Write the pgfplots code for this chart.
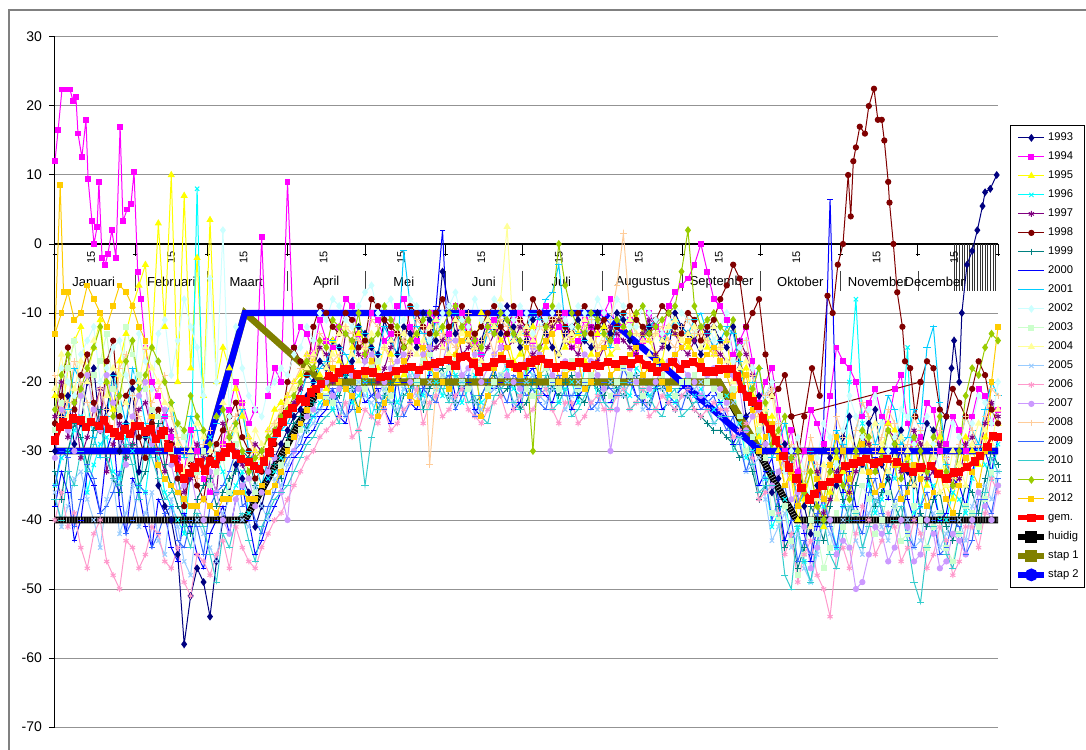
\documentclass[border=0pt]{standalone}
\usepackage{pgfplots}
\pgfplotsset{compat=1.18}
\usepackage{pgfplotstable}
\usepackage{fontspec}
\setmainfont{Liberation Sans}
\definecolor{c93}{HTML}{000080}
\definecolor{c94}{HTML}{FF00FF}
\definecolor{c95}{HTML}{FFFF00}
\definecolor{c96}{HTML}{00FFFF}
\definecolor{c97}{HTML}{800080}
\definecolor{c98}{HTML}{800000}
\definecolor{c99}{HTML}{008080}
\definecolor{c00}{HTML}{0000FF}
\definecolor{c01}{HTML}{00CCFF}
\definecolor{c02}{HTML}{CCFFFF}
\definecolor{c03}{HTML}{CCFFCC}
\definecolor{c04}{HTML}{FFFF99}
\definecolor{c05}{HTML}{99CCFF}
\definecolor{c06}{HTML}{FF99CC}
\definecolor{c07}{HTML}{CC99FF}
\definecolor{c08}{HTML}{FFCC99}
\definecolor{c09}{HTML}{3366FF}
\definecolor{c10}{HTML}{33CCCC}
\definecolor{c11}{HTML}{99CC00}
\definecolor{c12}{HTML}{FFCC00}
\definecolor{olivec}{HTML}{808000}
\pgfplotsset{
 s93/.style={color=c93, mark=diamond*, mark size=1.6pt},
 s94/.style={color=c94, mark=square*, mark size=1.2pt},
 s95/.style={color=c95, mark=triangle*, mark size=1.6pt},
 s96/.style={color=c96, mark=x, mark size=1.5pt},
 s97/.style={color=c97, mark=asterisk, mark size=1.5pt},
 s98/.style={color=c98, mark=*, mark size=1.3pt},
 s99/.style={color=c99, mark=+, mark size=1.6pt},
 s00/.style={color=c00, mark=-, mark size=1.4pt},
 s01/.style={color=c01, mark=-, mark size=1.8pt},
 s02/.style={color=c02, mark=diamond*, mark size=1.6pt},
 s03/.style={color=c03, mark=square*, mark size=1.2pt},
 s04/.style={color=c04, mark=triangle*, mark size=1.6pt},
 s05/.style={color=c05, mark=x, mark size=1.5pt},
 s06/.style={color=c06, mark=asterisk, mark size=1.5pt},
 s07/.style={color=c07, mark=*, mark size=1.3pt},
 s08/.style={color=c08, mark=+, mark size=1.6pt},
 s09/.style={color=c09, mark=-, mark size=1.4pt},
 s10/.style={color=c10, mark=-, mark size=1.8pt},
 s11/.style={color=c11, mark=diamond*, mark size=1.6pt},
 s12/.style={color=c12, mark=square*, mark size=1.2pt},
}
\pgfplotstableread{
d y93 y94 y95 y96 y97 y98 y99 y00 y01 y02 y03 y04 y05 y06 y07 y08 y09 y10 y11 y12
0 -30 nan -22 -35 -25 -26 -33 -38 -29 -24 -27 -21 -36 -40 -31 -19 -35 -37 -24 -13
2.5 -25 nan -26 -31 -20 -22 -37 -33 -26 -18 -23 -16 -41 -36 -24 -25 -30 -40 -19 -10
5 -22 nan -18 -30 -28 -15 -30 -36 -24 -20 -18 -25 -38 -41 -27 -23 -31 -33 -16 -7
7.5 -29 nan -14 -27 -23 -24 -26 -43 -18 -22 -14 -21 -34 -39 -30 -17 -41 -35 -23 -11
10 -26 nan -12 -25 -31 -19 -28 -40 -20 -16 -22 -17 -33 -44 -22 -20 -37 -30 -21 -10
12.5 -20 nan -19 -36 -28 -16 -32 -33 -23 -14 -26 -20 -37 -47 -19 -23 -32 -33 -18 -6
15 -18 nan -15 -32 -24 -23 -27 -35 -28 -12 -19 -14 -40 -42 -24 -26 -34 -29 -15 -8
17.5 -27 nan -11 -29 -21 -27 -24 -39 -31 -20 -17 -12 -44 -40 -27 -21 -39 -26 -12 -10
20 -24 nan -20 -28 -33 -17 -31 -30 -25 -18 -13 -22 -37 -46 -19 -24 -38 -31 -20 -12
22.5 -19 nan -24 -33 -29 -14 -34 -27 -19 -15 -21 -18 -34 -48 -23 -28 -36 -34 -25 -9
25 -30 nan -17 -34 -26 -25 -36 -38 -22 -14 -24 -19 -42 -50 -28 -18 -33 -35 -22 -6
27.5 -26 nan -13 -28 -31 -22 -31 -42 -26 -19 -12 -23 -39 -43 -32 -16 -42 -29 -17 -7
30 -21 nan -9 -30 -29 -20 -29 -34 -18 -22 -16 -26 -35 -44 -25 -22 -40 -32 -14 -9
32.5 -33 nan -6 -35 -24 -28 -35 -36 -21 -13 -19 -20 -41 -47 -22 -25 -35 -37 -21 -12
35 -28 -15 -3 -36 -23 -31 -33 -41 -26 -17 -21 -15 -39 -45 -20 -27 -36 -28 -19 -14
37.5 -25 -20 -15 -29 -27 -26 -29 -44 -29 -21 -24 -18 -36 -41 -29 -23 -44 -31 -15 -25
40 -35 -22 3 -31 -30 -24 -26 -37 -30 -13 -25 -20 -43 -42 -27 -21 -42 -34 -17 -32
42.5 -38 -25 -12 -36 -33 -27 -32 -39 -25 -11 -28 -23 -45 -46 -24 -19 -39 -37 -20 -34
45 -40 -28 10 -38 -27 -29 -35 -44 -23 -19 -30 -24 -37 -47 -32 -25 -38 -36 -23 -35
47.5 -45 -31 -20 -40 -31 -34 -38 -46 -28 -14 -26 -29 -41 -44 -36 -28 -43 -33 -26 -36
50 -58 -33 7 -42 -36 -38 -40 -39 -31 -8 -28 -33 -46 -49 -35 -30 -44 -41 -27 -37
52.5 -51 -27 -18 -33 -34 -32 -42 -41 -25 -12 -31 -30 -48 -51 -33 -32 -40 -44 -22 -38
55 -47 -30 -2 8 -29 -35 -37 -45 -27 -15 -33 -26 -40 -45 -38 -34 -41 -39 -25 -38
57.5 -49 -34 -22 -30 -31 -37 -35 -47 -33 -22 -30 -28 -42 -46 -40 -29 -45 -41 -27 -37
60 -54 -36 3.5 -28 -33 -31 -34 -42 -29 -5 -35 -30 -44 -48 -33 -27 -38 -45 -29 -38
62.5 -46 -32 -20 -31 -36 -29 -38 -40 -26 -20 -33 -25 -46 -45 -36 -31 -36 -49 -25 -39
65 -40 -29 -15 -33 -26 -27 -36 -38 -24 2 -31 -23 -39 -43 -40 -29 -35 -42 -24 -37
67.5 -36 -24 -18 -37 -28 -25 -34 -42 -29 -25 -36 -29 -37 -47 -42 -27 -33 -44 -28 -37
70 -32 -20 -21 -35 -30 -23 -33 -37 -26 -12 -29 -27 -36 -41 -37 -25 -30 -40 -26 -36
72.5 -34 -23 -25 -33 -32 -28 -30 -35 -24 -18 -31 -30 -40 -44 -35 -23 -38 -39 -30 -36
75 -36 -26 -28 -39 -34 -30 -31 -40 -30 -22 -34 -32 -41 -46 -34 -28 -37 -43 -33 -37
77.5 -41 -24 -30 -37 -29 -34 -35 -45 -32 -24 -36 -27 -35 -47 -38 -30 -40 -46 -31 -37
80 -38 1 -31 -36 -30 -33 -36 -43 -35 -25 -32 -29 -38 -44 -36 -31 -42 -41 -30 -35
82.5 -34 -22 -27 -34 -33 -30 -33 -40 -31 -21 -30 -31 -40 -42 -33 -27 -38 -39 -28 -36
85 -31 -18 -24 -33 -27 -29 -32 -38 -28 -20 -35 -26 -34 -40 -31 -26 -36 -37 -27 -35
87.5 -29 -20 -23 -31 -25 -26 -34 -36 -27 -18 -32 -24 -35 -39 -36 -24 -33 -36 -25 -33
90 -27 9 -22 -30 -24 -20 -28 -33 -26 -19 -29 -23 -32 -37 -40 -22 -31 -35 -24 -30
92.5 -25 -15 -20 -28 -23 -15 -26 -31 -24 -16 -28 -21 -30 -35 -30 -20 -30 -33 -22 -28
95 -24 -12 -19 -26 -21 -17 -25 -30 -22 -15 -27 -20 -28 -33 -26 -18 -29 -31 -20 -26
97.5 -22 -13 -16 -27 -19 -19 -27 -28 -19 -12 -25 -18 -27 -31 -25 -16 -26 -29 -17 -24
100 -20 -16 -17 -25 -18 -12 -23 -27 -20 -14 -24 -16 -26 -30 -24 -17 -25 -28 -18 -21
102.5 -17 -11 -19 -23 -15 -9 -21 -25 -18 -10 -21 -14 -24 -28 -21 -13 -24 -26 -14 -22
105 -18 -14 -21 -22 -16 -10 -20 -24 -17 -11 -22 -18 -23 -27 -20 -14 -22 -25 -15 -23
107.5 -14 -15 -14 -24 -20 -12 -23 -21 -14 -8 -23 -16 -22 -26 -22 -17 -21 -24 -11 -18
110 -15 -12 -17 -21 -19 -13 -22 -25 -15 -9 -20 -13 -24 -25 -21 -16 -23 -26 -12 -20
112.5 -19 -8 -18 -19 -13 -10 -19 -26 -16 -11 -18 -12 -25 -23 -18 -12 -25 -21 -13 -21
115 -17 -9 -15 -23 -14 -11 -21 -22 -18 -12 -19 -16 -21 -28 -19 -13 -24 -22 -14 -22
117.5 -12 -13 -13 -22 -16 -15 -24 -20 -12 -9 -20 -17 -20 -27 -21 -14 -19 -27 -10 -24
120 -13 -16 -14 -20 -17 -14 -19 -23 -13 -7 -21 -15 -22 -24 -17 -15 -20 -35 -16 -19
122.5 -15 -10 -17 -25 -14 -8 -20 -22 -15 -6 -18 -13 -23 -25 -16 -11 -22 -28 -14 -17
125 -16 -11 -18 -22 -20 -9 -24 -21 -16 -10 -17 -19 -25 -26 -22 -12 -23 -24 -13 -25
127.5 -11 -14 -15 -20 -18 -11 -22 -24 -12 -9 -21 -15 -21 -24 -20 -15 -24 -22 -9 -23
130 -14 -13 -16 -19 -15 -12 -20 -26 -14 -8 -22 -14 -23 -27 -18 -17 -21 -23 -11 -21
132.5 -16 -9 -20 -23 -13 -13 -25 -19 -16 -12 -19 -12 -24 -26 -17 -13 -20 -25 -12 -19
135 -12 -8 -19 -21 -18 -15 -22 -20 -1 -11 -18 -13 -21 -24 -16 -14 -25 -22 -15 -17
137.5 -13 -12 -14 -18 -16 -9 -21 -23 -9 -8 -22 -15 -19 -23 -20 -16 -23 -21 -14 -22
140 -15 -14 -13 -20 -10 -10 -19 -24 -12 -9 -20 -16 -22 -21 -19 -11 -18 -20 -13 -23
142.5 -10 -15 -17 -22 -12 -12 -24 -21 -13 -11 -17 -14 -23 -26 -16 -12 -21 -24 -11 -15
145 -11 -10 -15 -18 -16 -13 -21 -19 -15 -14 -16 -12 -20 -23 -15 -32 -22 -24 -10 -18
147.5 -14 -11 -13 -20 -15 -10 -19 -9 -11 -13 -21 -11 -21 -22 -18 -21 -23 -20 -13 -19
150 -4 -15 -12 -22 -14 -8 -18 2 -13 -10 -19 -15 -19 -25 -17 -13 -20 -21 -12 -20
152.5 -9 -13 -16 -17 -12 -12 -22 -18 -14 -9 -18 -16 -22 -24 -14 -14 -19 -23 -10 -21
155 -13 -9 -16 -19 -11 -11 -23 -22 -10 -7 -17 -11 -23 -22 -14 -15 -24 -19 -9 -16
157.5 -12 -10 -12 -23 -16 -9 -19 -21 -11 -11 -20 -13 -20 -21 -19 -12 -22 -20 -12 -14
160 -10 -12 -14 -21 -15 -14 -20 -20 -14 -12 -21 -14 -18 -24 -18 -10 -19 -23 -11 -13
162.5 -15 -14 -15 -19 -13 -13 -23 -24 -15 -8 -17 -15 -23 -25 -16 -15 -25 -22 -14 -17
165 -14 -16 -10 -23 -17 -12 -22 -25 -16 -11 -18 -17 -24 -26 -20 -14 -22 -25 -15 -25
167.5 -11 -12 -11 -22 -15 -10 -20 -22 -13 -12 -21 -11 -22 -24 -18 -13 -20 -26 -12 -22
170 -12 -11 -12 -20 -13 -9 -19 -21 -12 -8 -20 -12 -21 -23 -16 -16 -18 -22 -13 -18
172.5 -13 -15 -14 -19 -12 -12 -22 -20 -10 -9 -19 -8 -19 -22 -15 -11 -21 -21 -10 -16
175 -9 -13 -13 -18 -15 -13 -21 -19 -11 -10 -17 2.5 -20 -25 -19 -12 -23 -20 -11 -15
177.5 -12 -11 -17 -21 -14 -9 -20 -24 -14 -11 -18 -14 -23 -24 -20 -13 -19 -23 -13 -18
180 -15 -10 -16 -22 -12 -11 -24 -23 -13 -9 -19 -13 -22 -22 -21 -11 -20 -24 -14 -19
182.5 -14 -13 -13 -18 -13 -12 -23 -19 -12 -10 -21 -12 -20 -25 -17 -14 -22 -20 -18 -15
185 -11 -14 -12 -19 -16 -8 -20 -18 -10 -13 -22 -14 -19 -24 -15 -15 -21 -21 -30 -17
187.5 -10 -10 -16 -22 -15 -10 -19 -21 -11 -12 -19 -15 -22 -22 -16 -12 -23 -22 -15 -19
190 -13 -9 -15 -21 -14 -12 -18 -22 -8 -11 -18 -12 -23 -21 -17 -13 -24 -19 -12 -14
192.5 -15 -13 -12 -20 -12 -11 -21 -23 -7 -10 -20 -13 -21 -24 -19 -11 -20 -24 -9 -13
195 -16 -12 -11 -23 -11 -10 -22 -20 -3 -9 -21 -16 -20 -26 -20 -10 -19 -23 0 -20
197.5 -13 -10 -15 -21 -14 -12 -20 -19 -12 -11 -18 -14 -24 -23 -17 -13 -22 -21 -6 -19
200 -12 -15 -14 -20 -15 -13 -19 -24 -12 -12 -17 -13 -22 -23 -18 -14 -22 -25 -10 -18
202.5 -11 -14 -13 -23 -16 -10 -22 -22 -13 -9 -21 -12 -20 -26 -19 -15 -21 -24 -12 -17
205 -14 -11 -17 -18 -13 -9 -23 -21 -14 -10 -20 -11 -21 -25 -16 -12 -20 -22 -13 -21
207.5 -15 -12 -16 -19 -12 -13 -20 -20 -10 -11 -19 -14 -23 -23 -17 -11 -24 -20 -10 -20
210 -10 -13 -13 -22 -17 -12 -21 -19 -11 -8 -19 -15 -24 -22 -19 -15 -23 -21 -11 -16
212.5 -12 -10 -12 -21 -15 -11 -22 -23 -13 -10 -21 -13 -21 -24 -21 -14 -20 -23 -13 -15
215 -13 -8 -16 -19 -12 -14 -20 -23 -15 -11 -22 -14 -20 -24 -30 -11 -21 -24 -14 -19
217.5 -10 -14 -15 -20 -13 -12 -21 -21 -12 -8 -20 -15 -22 -22 -24 -6 -22 -21 -11 -18
220 -11 -12 -12 -21 -14 -10 -22 -20 -10 -9 -18 -12 -22 -21 -17 1.5 -18 -20 -12 -17
222.5 -14 -11 -11 -22 -15 -9 -20 -19 -11 -12 -19 -11 -20 -24 -18 -10 -20 -24 -13 -16
225 -15 -16 -10 -18 -16 -11 -19 -22 -13 -12 -20 -13 -19 -23 -20 -13 -22 -23 -10 -15
227.5 -13 -14 -13 -19 -13 -12 -23 -23 -14 -9 -22 -14 -24 -21 -19 -14 -23 -21 -9 -19
230 -12 -10 -14 -22 -11 -13 -23 -21 -12 -10 -21 -16 -23 -25 -21 -14 -24 -22 -13 -18
232.5 -11 -12 -16 -21 -16 -11 -21 -20 -11 -11 -18 -13 -20 -24 -20 -13 -21 -24 -12 -17
235 -14 -13 -17 -20 -15 -9 -21 -24 -14 -13 -19 -14 -21 -22 -18 -12 -20 -25 -11 -20
237.5 -15 -9 -12 -22 -12 -10 -23 -23 -13 -12 -21 -12 -23 -23 -17 -14 -22 -22 -10 -21
240 -10 -7 -13 -23 -13 -12 -24 -22 -11 -9 -22 -11 -24 -24 -16 -15 -23 -21 -9 -16
242.5 -12 -6 -14 -20 -15 -13 -22 -21 -12 -10 -20 -14 -22 -22 -18 -12 -24 -25 -4 -15
245 -13 -5 -15 -19 -16 -10 -22 -20 -13 -11 -20 -13 -22 -21 -19 -11 -21 -24 2 -14
247.5 -14 -3 -13 -22 -14 -11 -24 -22 -11 -13 -19 -12 -21 -24 -20 -13 -22 -23 -9 -16
250 -16 0 -12 -21 -12 -14 -25 -23 -10 -12 -18 -15 -20 -25 -22 -13 -24 -22 -12 -17
252.5 -13 -4 -15 -23 -13 -12 -26 -22 -13 -11 -20 -14 -23 -24 -19 -14 -23 -24 -11 -16
255 -12 -8 -16 -24 -15 -11 -27 -21 -15 -14 -21 -12 -26 -23 -18 -16 -22 -26 -10 -15
257.5 -14 -9 -15 -23 -16 -8 -27 -23 -14 -12 -22 -15 -25 -24 -21 -15 -25 -25 -12 -17
260 -15 -11 -14 -22 -17 -6 -28 -25 -12 -10 -23 -17 -24 -24 -23 -14 -27 -25 -13 -19
262.5 -12 -16 -20 -21 -19 -3 -29 -29 -13 -17 -21 -20 -23 -28 -19 -18 -25 -30 -11 -22
265 -18 -14 -19 -26 -14 -5 -31 -27 -17 -15 -25 -18 -28 -27 -21 -16 -29 -28 -16 -21
267.5 -25 -12 -18 -31 -16 -12 -30 -25 -22 -14 -30 -17 -33 -26 -27 -14 -33 -27 -22 -19
270 -24 -17 -22 -30 -19 -10 -33 -30 -20 -18 -28 -21 -32 -31 -25 -19 -30 -32 -21 -24
272.5 -22 -23 -28 -27 -24 -8 -37 -35 -18 -24 -27 -26 -31 -37 -24 -25 -29 -36 -18 -30
275 -29 -20 -25 -34 -22 -16 -35 -33 -24 -22 -31 -24 -37 -36 -29 -22 -34 -35 -23 -28
277.5 -36 -18 -25 -41 -20 -22 -33 -31 -31 -20 -39 -22 -43 -35 -35 -21 -40 -35 -29 -26
280 -34 -24 -30 -39 -26 -21 -38 -37 -29 -26 -40 -28 -41 -39 -33 -26 -37 -40 -27 -31
282.5 -29 -30 -35 -37 -33 -19 -44 -43 -26 -33 -38 -35 -39 -45 -31 -32 -35 -48 -25 -35
285 -33 -27 -34 -43 -31 -25 -42 -40 -31 -30 -43 -33 -44 -42 -37 -29 -40 -50 -31 -33
287.5 -30 -33 -40 -41 -38 nan -47 -36 -38 -28 -48 -30 -42 -49 -36 -35 -46 -41 -30 -38
290 -38 -30 -37 -46 -35 nan -44 -42 -36 -33 -45 -35 -47 -45 -41 -33 -43 -46 -36 -35
292.5 -42 -24 -33 -49 -30 nan -38 -46 -30 -36 -40 -41 -49 -43 -47 -28 -45 -49 -33 -31
295 -35 -26 -38 -44 -33 nan -40 -41 -34 -31 -42 -37 -45 -48 -44 -32 -39 -43 -38 -34
297.5 -29 -29 -41 -38 -39 nan -43 -26 -37 -26 -47 -32 -40 -50 -37 -35 -37 -40 -40 -37
300 -31 -22 -36 -40 -37 nan -38 6.5 -32 -28 -44 -34 -42 -54 -40 -30 -41 -45 -33 -32
302.5 -35 -15 -31 -44 -33 nan -34 -28 -27 -32 -39 -37 -45 -45 -45 -25 -44 -47 -30 -28
305 -28 -17 -33 -38 -30 nan -37 -36 -29 -27 -41 -32 -40 -44 -43 -28 -38 -42 -35 -30
307.5 -25 -18 -36 -20 -36 nan -40 -33 -32 -22 -44 -28 -38 -47 -44 -32 -35 -38 -37 -34
310 -30 -20 -31 -8 -33 nan -35 -38 -27 -25 -39 -30 -43 -42 -50 -27 -40 -39 -30 -31
312.5 -32 -25 -27 -26 -28 nan -31 -40 -23 -28 -35 -33 -45 -38 -49 -23 -42 -44 -27 -29
315 -26 -23 -29 -35 -29 nan -34 -33 -25 -24 -37 -28 -39 -40 -45 -25 -36 -41 -28 -33
317.5 -24 -21 -33 -39 -33 nan -38 -31 -29 -22 -42 -26 -37 -45 -41 -30 -34 -37 -33 -36
320 -32 -25 -30 -37 -31 nan -36 -35 -26 -26 -40 -29 -41 -43 -42 -28 -39 -38 -31 -35
322.5 -34 -26 -26 -33 -27 nan -34 -37 -22 -30 -36 -33 -43 -39 -46 -24 -41 -42 -27 -31
325 -29 -21 -27 -34 -28 nan -38 -32 -24 -28 -38 -31 -38 -41 -44 -26 -37 -40 -29 -32
327.5 -27 -19 -32 -28 -33 nan -40 -30 -29 -24 -43 -28 -36 -46 -40 -30 -35 -38 -34 -37
330 -33 -26 -31 -15 -32 nan -35 -37 -28 -25 -42 -30 -40 -44 -41 -29 -42 -43 -32 -36
332.5 -35 -29 -29 -39 -27 nan -33 -40 -24 -29 -38 -35 -44 -40 -46 -25 -44 -49 -28 -32
335 -30 -28 -33 -38 -29 -20 -39 -34 -26 -27 -40 -33 -43 -42 -45 -27 -38 -52 -30 -34
337.5 -26 -23 -35 -34 -34 -17 -41 -32 -15 -25 -44 -29 -38 -47 -40 -32 -36 -44 -33 -38
340 -27 -24 -29 -35 -33 -18 -37 -36 -12 -29 -41 -31 -39 -45 -42 -30 -40 -41 -28 -36
342.5 -30 -30 -28 -40 -29 -24 -36 -40 -23 -33 -39 -36 -44 -41 -47 -27 -45 -39 -25 -33
345 -25 -29 -35 -40 -31 -25 -41 -39 -32 -31 -44 -35 -42 -43 -46 -31 -44 -45 -33 -37
347.5 nan -25 -37 -36 -35 -21 -43 -34 -34 -26 -46 -30 -39 -48 -42 -34 -40 -47 -35 -39
350 nan -27 -32 -37 -34 -23 -39 -35 -29 -28 -42 -32 -40 -46 -43 -29 -41 -42 -30 -35
352.5 nan -30 -28 -39 -29 -25 -35 -38 -25 -31 -38 -35 -43 -41 -45 -25 -45 -38 -22 -31
355 nan -25 -30 -34 -28 -21 -36 -33 -27 -26 -39 -29 -38 -41 -40 -27 -43 -39 -18 -33
357.5 nan -21 -32 -30 -31 -17 -39 -30 -29 -22 -41 -26 -35 -44 -36 -30 -37 -42 -19 -35
360 nan -22 -28 -32 -26 -19 -34 -30 -24 -23 -37 -27 -35 -39 -38 -25 -37 -36 -15 -30
362.5 nan -26 -24 -34 -23 -24 -30 -33 -20 -26 -33 -29 -37 -34 -40 -21 -39 -31 -13 -20
365 nan -24 -26 -29 -25 -26 -32 -28 -22 -20 -35 -24 -33 -36 -35 -22 -34 -33 -14 -12
}\data
\begin{document}
\begin{tikzpicture}
\useasboundingbox (0pt,0pt) rectangle (543pt,-374.5pt);
\draw[gray, line width=0.6pt] (4.5pt,-420pt) -- (4.5pt,-5pt) -- (600pt,-5pt);
\begin{axis}[
  at={(27.5pt,-363.5pt)}, anchor=south west,
  scale only axis, width=471.5pt, height=345pt,
  xmin=0, xmax=365, ymin=-70, ymax=30,
  axis x line=none, axis y line*=left,
  y axis line style={black, line width=0.5pt, -},
  xtick=\empty,
  ytick={-70,-60,...,30},
  ymajorgrids, grid style={gray!85, line width=0.5pt},
  tick align=outside, major tick length=3pt,
  ytick style={black, line width=0.5pt},
  yticklabel style={font=\fontsize{7}{8}\selectfont},
  /pgf/number format/assume math mode=true,
  every axis plot/.append style={line width=0.5pt},
  clip=false,
  legend cell align=left,
  legend style={at={(1.0127,0.8725)}, anchor=north west, draw=black, line width=0.4pt,
    font=\fontsize{5.6}{6}\selectfont, inner xsep=2.5pt, inner ysep=2.5pt,
    row sep=2pt, nodes={inner xsep=0.4pt, inner ysep=1pt, text height=4.3pt, text depth=1.2pt}},
  legend image code/.code={\draw[mark repeat=2,mark phase=2,#1] plot coordinates {(0pt,0pt) (6.5pt,0pt) (13pt,0pt)};},
]
% axis decorations (under the data)
\draw[black, line width=0.6pt] (axis cs:0,0) -- (axis cs:365,0);
\pgfplotsinvokeforeach{0,31,59,90,120,151,181,212,243,273,304,334,365}{
  \draw[black, line width=0.5pt] (axis cs:#1,0) -- (axis cs:#1,-1.7);
  \draw[black, line width=0.5pt] ([xshift=-1.2pt]axis cs:#1,-1.45) -- ([xshift=1.2pt]axis cs:#1,-1.45);
}
\pgfplotsinvokeforeach{31,59,90,120,151,181,212,243,273,304,334}{
  \draw[black!75, line width=0.4pt] (axis cs:#1,-3.9) -- (axis cs:#1,-6.8);
}
\pgfplotsinvokeforeach{348,349,...,364}{
  \draw[black!80, line width=0.3pt] (axis cs:#1,0) -- (axis cs:#1,-6.8);
}
\pgfplotsinvokeforeach{14,45,73,104,134,165,195,226,257,287,318,348}{
  \node[rotate=90, font=\fontsize{5.5}{6}\selectfont, inner sep=0pt] at (axis cs:#1,-2.0) {15};
}
\node[font=\fontsize{6.5}{7}\selectfont] at (axis cs:15,-5.5) {Januari};
\node[font=\fontsize{6.5}{7}\selectfont] at (axis cs:45,-5.5) {Februari};
\node[font=\fontsize{6.5}{7}\selectfont] at (axis cs:74,-5.5) {Maart};
\node[font=\fontsize{6.5}{7}\selectfont] at (axis cs:105,-5.5) {April};
\node[font=\fontsize{6.5}{7}\selectfont] at (axis cs:135,-5.5) {Mei};
\node[font=\fontsize{6.5}{7}\selectfont] at (axis cs:166,-5.5) {Juni};
\node[font=\fontsize{6.5}{7}\selectfont] at (axis cs:196,-5.5) {Juli};
\node[font=\fontsize{6.5}{7}\selectfont] at (axis cs:227.5,-5.5) {Augustus};
\node[font=\fontsize{6.5}{7}\selectfont] at (axis cs:258,-5.5) {September};
\node[font=\fontsize{6.5}{7}\selectfont] at (axis cs:288.5,-5.5) {Oktober};
\node[font=\fontsize{6.5}{7}\selectfont] at (axis cs:318.5,-5.5) {November};
\node[font=\fontsize{6.5}{7}\selectfont] at (axis cs:340.5,-5.5) {December};

\addplot[s93] table[x=d,y=y93]{\data}; \addlegendentry{1993}
\addplot[s93, forget plot] coordinates {(345,-25)(347,-18)(348,-14)(350,-20)(351,-10)(353,-3)(355,-1)(357,2)(359,5.5)(360,7.5)(362,8)(364.5,10)};
\addplot[s94] table[x=d,y=y94]{\data}; \addlegendentry{1994}
\addplot[s94, forget plot] coordinates {(0,12)(1.2,16.5)(2.7,22.4)(4.3,22.4)(5.8,22.4)(7,20.7)(8.1,21.3)(8.9,16)(10.4,12.6)(12,18)(12.8,9.4)(14.3,3.3)(15.1,0)(16.3,2.5)(17,9)(18.2,-2)(19.4,-3)(20.5,-1.4)(22,2)(23.6,-2)(25.2,17)(26.3,3.3)(27.9,5)(29.4,5.8)(30.6,10.4)(32,-4)(33.3,-8)(35,-15)};
\addplot[s95] table[x=d,y=y95]{\data}; \addlegendentry{1995}
\addplot[s96] table[x=d,y=y96]{\data}; \addlegendentry{1996}
\addplot[s97] table[x=d,y=y97]{\data}; \addlegendentry{1997}
\addplot[s98] table[x=d,y=y98]{\data}; \addlegendentry{1998}
\addplot[s98, forget plot] coordinates {(285,-25)(288,-30)(290,-25)(293,-18)(296,-22)(299,-7.5)(301,-10)(303,-3)(305,0)(307,10)(308,4)(309,12)(310,14)(311.5,17)(313.5,16)(315,20)(317,22.5)(318.5,18)(320,18)(321,15)(322.5,9)(323,6)(324.5,0)(326,-7)(328,-12)(329,-17)(331,-18)(333,-25)(335,-20)};
\addplot[s99] table[x=d,y=y99]{\data}; \addlegendentry{1999}
\addplot[s00] table[x=d,y=y00]{\data}; \addlegendentry{2000}
\addplot[s01] table[x=d,y=y01]{\data}; \addlegendentry{2001}
\addplot[s02] table[x=d,y=y02]{\data}; \addlegendentry{2002}
\addplot[s03] table[x=d,y=y03]{\data}; \addlegendentry{2003}
\addplot[s04] table[x=d,y=y04]{\data}; \addlegendentry{2004}
\addplot[s05] table[x=d,y=y05]{\data}; \addlegendentry{2005}
\addplot[s06] table[x=d,y=y06]{\data}; \addlegendentry{2006}
\addplot[s07] table[x=d,y=y07]{\data}; \addlegendentry{2007}
\addplot[s08] table[x=d,y=y08]{\data}; \addlegendentry{2008}
\addplot[s09] table[x=d,y=y09]{\data}; \addlegendentry{2009}
\addplot[s10] table[x=d,y=y10]{\data}; \addlegendentry{2010}
\addplot[s11] table[x=d,y=y11]{\data}; \addlegendentry{2011}
\addplot[s12] table[x=d,y=y12]{\data}; \addlegendentry{2012}
\addplot[s12, forget plot] coordinates {(0,-13)(2,8.5)(3.3,-7)(5,-7)};

\addplot[red, line width=2.4pt, mark=square*, mark size=0.9pt] coordinates {
(0,-28.5)(2,-26.5)(3,-25.8)(5,-26.2)(7,-25.3)(10,-25.6)(12,-26.5)(14,-25.8)(17,-26.4)(19,-25.5)(21,-26.8)(23,-27.3)(25,-27.8)(27,-26.9)(29,-27.5)(31,-26.4)(33,-26.4)(35,-27.2)(37,-26.8)(39,-28.3)(41,-27.6)(42,-27.1)(44,-29.5)(46,-31.2)(48,-32.5)(50,-34)(52,-33.2)(54,-32.4)(56,-31.6)(58,-32.8)(60,-31.5)(62,-31.9)(64,-30.8)(66,-30.2)(68,-29.5)(70,-30.5)(72,-31.2)(75,-31.6)(77,-32.2)(79,-32.6)(81,-31.5)(83,-30.2)(84,-28.7)(86,-27.4)(88,-25.8)(90,-24.6)(92,-23.8)(95,-22.5)(97,-22.8)(99,-21.5)(101,-21)(103,-20.3)(106,-19.1)(108,-19.4)(110,-18.6)(112,-18.2)(114,-18.1)(117,-18.9)(120,-18.4)(123,-18.6)(126,-19.3)(129,-19.1)(132,-18.4)(135,-18.1)(138,-17.8)(141,-18.3)(144,-17.6)(147,-17.3)(149,-17.1)(152,-16.8)(155,-17.6)(157,-16.4)(159,-16.2)(162,-17.3)(164,-18.5)(167,-17.8)(170,-17.2)(173,-16.7)(176,-17.4)(179,-17.9)(181,-17.7)(184,-17.2)(186,-16.9)(188,-16.7)(191,-17.3)(194,-17.9)(197,-17.5)(200,-17.7)(203,-17.2)(206,-17.9)(209,-17.5)(211,-17.7)(214,-17.1)(217,-17.4)(220,-16.9)(223,-17.3)(226,-16.7)(229,-17.5)(231,-17.9)(233,-18.5)(236,-17.8)(239,-17.1)(242,-18.1)(244,-17.4)(247,-17.1)(250,-17.9)(252,-18.5)(255,-18.5)(257,-18.2)(259,-18.1)(262,-18.1)(264,-19.2)(266,-21)(268,-22.1)(270,-22.8)(272,-23.5)(274,-25.3)(277,-26.8)(279,-28.5)(282,-30.7)(284,-32.4)(287,-34)(289,-35.4)(292,-37)(294,-36.2)(297,-35)(300,-34.5)(303,-34)(306,-32.2)(309,-31.8)(312,-31.5)(314,-31.2)(317,-31.8)(319,-31.6)(322,-31.2)(326,-31.6)(329,-32.4)(332,-33)(335,-32.4)(339,-32.2)(342,-33.3)(345,-34)(348,-33.1)(350,-33)(353,-32.3)(356,-31.5)(358,-30.7)(361,-29.4)(363,-27.8)(365,-28)};
\addlegendentry{gem.}
\addplot[black, line width=3.3pt,
  legend image code/.code={\draw[black, line width=3pt] (0pt,0pt) -- (13pt,0pt); \fill[black] (5.2pt,-1.3pt) rectangle (7.8pt,1.3pt);}]
  coordinates {(0,-40)(73.5,-40)(103.5,-20)(257,-20)(287,-40)(365,-40)};
\addlegendentry{huidig}
\addplot[gray!60, line width=2.4pt, dash pattern=on 0.3pt off 1.1pt, forget plot]
  coordinates {(0,-40)(73.5,-40)(103.5,-20)(257,-20)(287,-40)(365,-40)};
\addplot[olivec, line width=3.3pt,
  legend image code/.code={\draw[olivec, line width=3pt] (0pt,0pt) -- (13pt,0pt); \fill[olivec] (5.2pt,-1.3pt) rectangle (7.8pt,1.3pt);}]
  coordinates {(0,-30)(58.5,-30)(73.5,-10)(103.5,-20)(257,-20)(273,-30)(365,-30)};
\addlegendentry{stap 1}
\addplot[c00, line width=3.2pt,
  legend image code/.code={\draw[c00, line width=3pt] (0pt,0pt) -- (13pt,0pt); \fill[c00] (6.5pt,0pt) circle (1.5pt);}]
  coordinates {(0,-30)(58.5,-30)(73.5,-10)(212,-10)(273,-30)(365,-30)};
\addlegendentry{stap 2}
\end{axis}
\end{tikzpicture}
\end{document}
